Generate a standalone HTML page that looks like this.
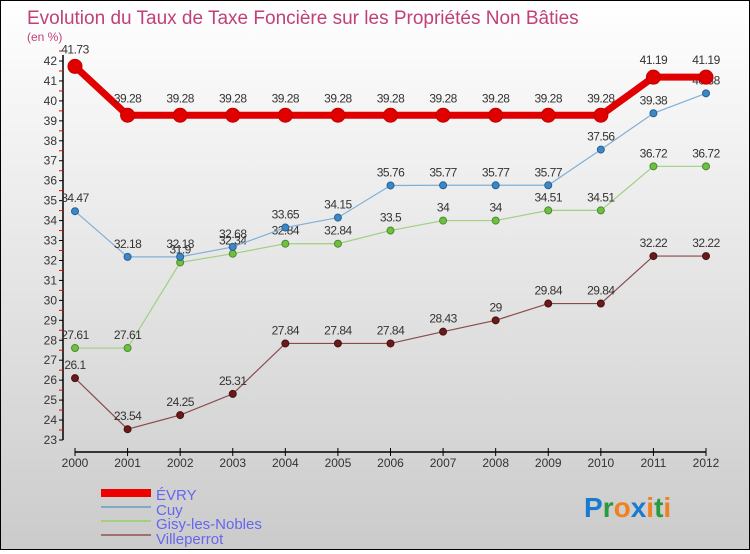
<!DOCTYPE html>
<html><head><meta charset="utf-8"><style>
html,body{margin:0;padding:0}
body{width:750px;height:550px;overflow:hidden}
#wrap{position:relative;width:748px;height:548px;border:1px solid #000;background:linear-gradient(#ffffff,#cbcbcb)}
svg text{font-family:"Liberation Sans",sans-serif}
</style></head><body>
<div id="wrap">
<svg id="chart" width="748" height="548">
<text x="26" y="23" font-size="19" fill="#c0407a">Evolution du Taux de Taxe Foncière sur les Propriétés Non Bâties</text>
<text x="26" y="40" font-size="12" fill="#c0407a">(en %)</text>
<g id="axes"></g>
<g id="series"></g>
<g id="legend">
 <rect x="100" y="488" width="50" height="8" fill="#e00"/>
 <text x="155" y="499" font-size="15" fill="#6666ee">ÉVRY</text>
 <rect x="100" y="505" width="50" height="2" fill="#80a8c8"/>
 <text x="155" y="514" font-size="15" fill="#6666ee">Cuy</text>
 <rect x="100" y="519" width="50" height="2" fill="#a0d080"/>
 <text x="155" y="528" font-size="15" fill="#6666ee">Gisy-les-Nobles</text>
 <rect x="100" y="533" width="50" height="2" fill="#a07070"/>
 <text x="155" y="543" font-size="15" fill="#6666ee">Villeperrot</text>
</g>
<g font-size="28" font-weight="bold">
 <text x="583" y="516"><tspan fill="#1a7ad0">P</tspan><tspan fill="#2a9a40">r</tspan><tspan fill="#f08020">o</tspan><tspan fill="#1a7ad0">x</tspan><tspan fill="#f08020">i</tspan><tspan fill="#2a9a40">t</tspan><tspan fill="#f08020">i</tspan></text>
</g>
</svg>
</div>
<script>
const years=[2000,2001,2002,2003,2004,2005,2006,2007,2008,2009,2010,2011,2012];
const evry=[41.73,39.28,39.28,39.28,39.28,39.28,39.28,39.28,39.28,39.28,39.28,41.19,41.19];
const cuy=[34.47,32.18,32.18,32.68,33.65,34.15,35.76,35.77,35.77,35.77,37.56,39.38,40.38];
const gisy=[27.61,27.61,31.9,32.34,32.84,32.84,33.5,34,34,34.51,34.51,36.72,36.72];
const villeperrot=[26.1,23.54,24.25,25.31,27.84,27.84,27.84,28.43,29,29.84,29.84,32.22,32.22];
const yTicks=[23,24,25,26,27,28,29,30,31,32,33,34,35,36,37,38,39,40,41,42];
const NS='http://www.w3.org/2000/svg';
const X=i=>74+i*(705-74)/(years.length-1);
const Y=v=>439-(v-23)*(439-60)/19;
function mk(t,a,p){const e=document.createElementNS(NS,t);for(const k in a)e.setAttribute(k,a[k]);p.appendChild(e);return e;}
const ax=document.getElementById('axes');
const yl=mk('line',{x1:62,y1:Y(23),x2:62,y2:Y(42.3),stroke:'#000','stroke-width':1.5},ax);


yTicks.forEach(v=>{
 mk('line',{x1:58,x2:62,y1:Y(v),y2:Y(v),stroke:'#000'},ax);
 mk('line',{x1:58,x2:62,y1:Y(v+0.5),y2:Y(v+0.5),stroke:'#e00'},ax);
 const t=mk('text',{x:56,y:Y(v)+4,'font-size':12,fill:'#333','text-anchor':'end'},ax);t.textContent=v;
 
 
});
const xl=mk('line',{x1:74,y1:451,x2:705,y2:451,stroke:'#000','stroke-width':1.5},ax);


years.forEach((y,i)=>{
 mk('line',{x1:X(i),x2:X(i),y1:447,y2:455,stroke:'#000'},ax);
 const t=mk('text',{x:X(i),y:466,'font-size':12,fill:'#333','text-anchor':'middle'},ax);t.textContent=y;
 
 
});
const sg=document.getElementById('series');
function draw(vals,name,color,w,r,dot,dotStroke){
 const g=mk('g',{},sg);
 
 
 const pl=mk('polyline',{points:vals.map((v,i)=>X(i)+','+Y(v)).join(' '),fill:'none',stroke:color,'stroke-width':w},g);
 
 
 vals.forEach((v,i)=>{
  const c=mk('circle',{cx:X(i),cy:Y(v),r:r,fill:dot,stroke:dotStroke,'stroke-width':1},g);
  
  
  const t=mk('text',{x:X(i),y:Y(v)-(r>5?13:9),'font-size':12,fill:'#333','text-anchor':'middle','letter-spacing':'-0.5'},g);
  t.textContent=v;
  
  
 });
}
draw(villeperrot,'villeperrot','#8a4a4a',1.2,3.5,'#6a1a1a','#4a1010');
draw(gisy,'gisy','#a0d080',1.2,3.5,'#70c040','#4a8a30');
draw(cuy,'cuy','#80b0d8',1.2,3.5,'#3a88c8','#2a6090');
draw(evry,'evry','#e00000',7,7,'#e00000','#c00000');
</script>
</body></html>
